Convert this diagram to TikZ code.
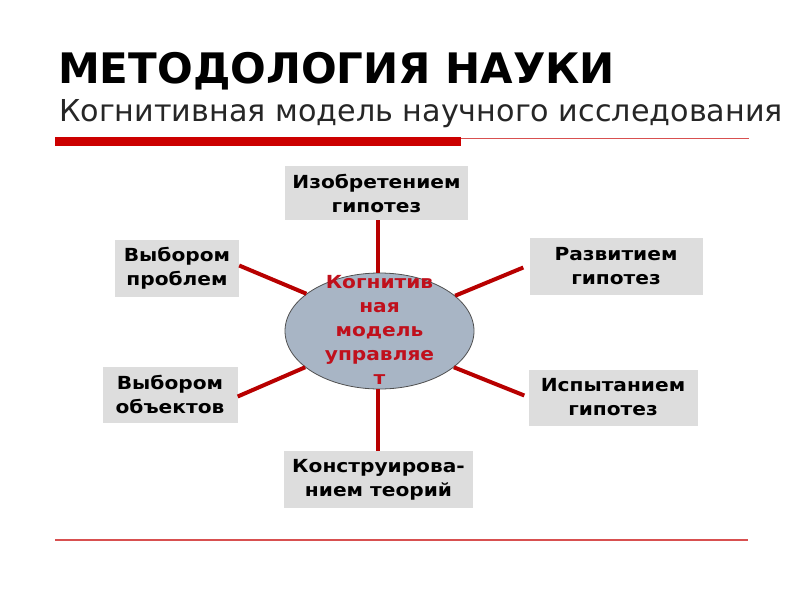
\documentclass[tikz,border=0pt]{standalone}
\usepackage{fontspec}
\setmainfont{DejaVu Sans}
\newfontfamily\boxfont[FakeStretch=1.12]{DejaVu Sans}
\usetikzlibrary{shapes.geometric,calc}
\definecolor{linered}{HTML}{B80000}
\definecolor{textred}{HTML}{C0101C}
\definecolor{boxgray}{HTML}{DDDDDD}
\definecolor{ellfill}{HTML}{A8B5C5}
\definecolor{ellborder}{HTML}{505050}
\definecolor{thinred}{HTML}{D85050}
\tikzset{
  box/.style={fill=boxgray, inner sep=0pt, align=center, font=\boxfont\fontsize{18}{24}\selectfont\bfseries},
  spoke/.style={draw=linered, line width=4pt},
}
\begin{document}
\begin{tikzpicture}[x=1pt,y=-1pt]
\useasboundingbox[fill=white] (0,0) rectangle (800,600);
% title
\node[anchor=base west, inner sep=0pt, font=\fontsize{42}{48}\selectfont\bfseries] (title) at (58,83) {МЕТОДОЛОГИЯ НАУКИ};
\node[anchor=base west, inner sep=0pt, font=\fontsize{30.2}{34}\selectfont, text=black!85] (subtitle) at (59,121) {Когнитивная модель научного исследования};
\fill[red!80!black] (55,137) rectangle (461,146);
\draw[thinred, line width=1pt] (461,138) -- (749,138);
\draw[thinred, line width=1.5pt] (55,540) -- (748,540);
% ellipse
\node[ellipse, draw=ellborder, fill=ellfill, line width=0.8pt, minimum width=189, minimum height=116, inner sep=0pt] (ell) at (379.5,331) {};
\node[text=textred, align=center, inner sep=0pt, font=\boxfont\fontsize{18}{24}\selectfont\bfseries] (elltext) at (379.5,330) {Когнитив\\ная\\модель\\управляе\\т};
% boxes
\node[box, minimum width=183, minimum height=54] (top) at (376.5,193) {Изобретением\\гипотез};
\node[box, minimum width=173, minimum height=57] (rtop) at (616,266.5) {Развитием\\гипотез};
\node[box, minimum width=124, minimum height=57] (ltop) at (177,268.5) {Выбором\\проблем};
\node[box, minimum width=135, minimum height=56] (lbot) at (170,394.5) {Выбором\\объектов};
\node[box, minimum width=169, minimum height=56] (rbot) at (613,397.5) {Испытанием\\гипотез};
\node[box, minimum width=189, minimum height=57] (bot) at (378.5,479.5) {Конструирова-\\нием теорий};
% spokes
\draw[spoke] (top.south -| 378,0) -- (ell.north -| 378,0);
\draw[spoke] (ell.south -| 378,0) -- (bot.north -| 378,0);
\draw[spoke] ($(ltop.east)+(0,-3)$) -- (ell.153);
\draw[spoke] ($(rtop.west)+(-6,1)$) -- (ell.25);
\draw[spoke] ($(lbot.east)+(0,2)$) -- (ell.206);
\draw[spoke] ($(rbot.west)+(-4,-2)$) -- (ell.334);
\end{tikzpicture}
\end{document}
